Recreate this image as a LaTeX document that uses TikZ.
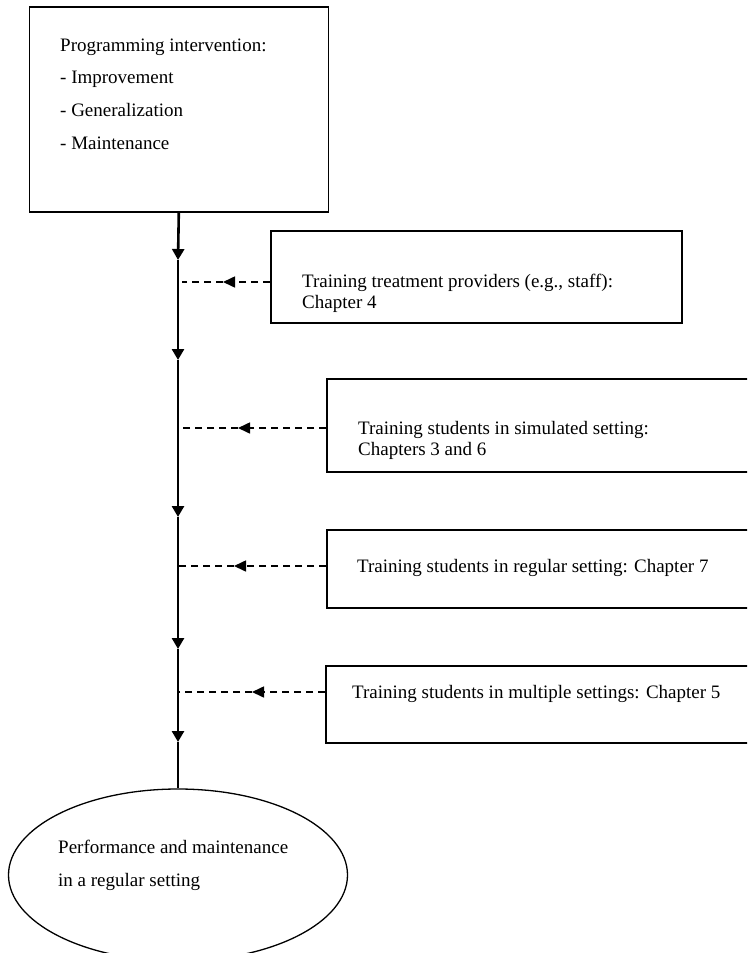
\documentclass[tikz,border=0pt]{standalone}
\usepackage{fontspec}
\setmainfont{Liberation Serif}
\usetikzlibrary{arrows.meta,shapes.geometric}
\begin{document}
\begin{tikzpicture}[x=1pt,y=-1pt,
  box/.style={draw,line width=1.6pt,rectangle,anchor=north west,inner sep=0pt},
  goalshape/.style={draw,ellipse,line width=1.3pt,inner sep=0pt},
  txt/.style={anchor=base west,inner sep=0pt,font=\fontsize{19}{21}\selectfont},
  spine/.style={line width=2.6pt},
  tipspine/.style={spine,-{Triangle[length=11pt,width=12pt]}},
  feed/.style={line width=1.6pt,dash pattern=on 7pt off 5pt},
  tipfeed/.style={feed,-{Triangle[length=12pt,width=11pt]}}]

\clip (0,0) rectangle (747,953);

% main intervention box
\node[box,minimum width=299pt,minimum height=205pt] (prog) at (28.5,6) {};
\node[txt] (p0) at (60,51)  {Programming intervention:};
\node[txt] (p1) at (60,83)  {- Improvement};
\node[txt] (p2) at (60,116) {- Generalization};
\node[txt] (p3) at (60,149) {- Maintenance};

% training boxes on the right
\node[box,minimum width=411pt,minimum height=92pt] (b1) at (270,230) {};
\node[txt] (b1a) at (302,287) {Training treatment providers (e.g., staff):};
\node[txt] (b1b) at (302,308) {Chapter 4};

\node[box,minimum width=440pt,minimum height=93pt] (b2) at (326,378) {};
\node[txt] (b2a) at (358,434) {Training students in simulated setting:};
\node[txt] (b2b) at (358,455) {Chapters 3 and 6};

\node[box,minimum width=440pt,minimum height=78pt] (b3) at (326,529) {};
\node[txt] (b3a) at (357,572) {Training students in regular setting: Chapter 7};

\node[box,minimum width=440pt,minimum height=77pt] (b4) at (325,665) {};
\node[txt] (b4a) at (352,698) {Training students in multiple settings: Chapter 5};

% outcome ellipse
\node[goalshape,minimum width=339pt,minimum height=172pt] (goal) at (178,875) {};
\node[txt] (g1) at (58,853) {Performance and maintenance};
\node[txt] (g2) at (58,886) {in a regular setting};

% spine with arrow heads
\coordinate (a1) at (178,260);
\coordinate (a2) at (178,360);
\coordinate (a3) at (178,517);
\coordinate (a4) at (178,649);
\coordinate (a5) at (178,742);
\draw[tipspine] (prog.south) -- (a1);
\draw[tipspine] (a1) -- (a2);
\draw[tipspine] (a2) -- (a3);
\draw[tipspine] (a3) -- (a4);
\draw[tipspine] (a4) -- (a5);
\draw[spine] (a5) -- (goal.north);

% dashed feeds into the spine
\coordinate (t1) at (223,282);
\coordinate (f1) at (182,282);
\draw[tipfeed] (b1.west |- t1) -- (t1);
\draw[feed] (t1) -- (f1);

\coordinate (t2) at (238,428);
\coordinate (f2) at (178,428);
\draw[tipfeed] (b2.west |- t2) -- (t2);
\draw[feed] (t2) -- (f2);

\coordinate (t3) at (234,566);
\coordinate (f3) at (178,566);
\draw[tipfeed] (b3.west |- t3) -- (t3);
\draw[feed] (t3) -- (f3);

\coordinate (t4) at (252,692);
\coordinate (f4) at (178,692);
\draw[tipfeed] (b4.west |- t4) -- (t4);
\draw[feed] (t4) -- (f4);
\end{tikzpicture}
\end{document}
